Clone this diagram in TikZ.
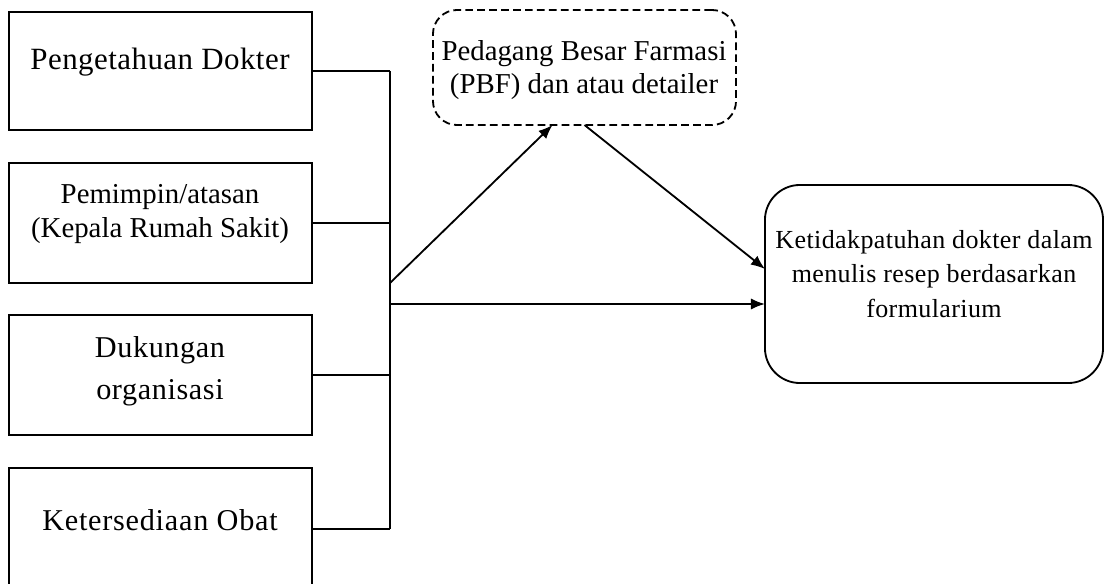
\documentclass[tikz,border=0pt]{standalone}
\usepackage{fontspec}
\setmainfont{Liberation Serif}
\usetikzlibrary{arrows.meta}

\begin{document}
\begin{tikzpicture}[x=0.025cm, y=-0.025cm]
\tikzset{kotak/.style={draw, line width=1.3pt, inner sep=0pt, outer sep=0pt, minimum width=7.575cm},
  teks/.style={align=center, inner sep=0pt, font=\fontsize{20.5}{24.8}\selectfont},
  garis/.style={line width=1.3pt},
  panah/.style={line width=1.3pt, -{Latex[length=10pt, width=8pt]}}}
\useasboundingbox (0,0) rectangle (1104,584);
\node[kotak, minimum height=2.95cm] (dokter) at (160.5,71) {};
\node[kotak, minimum height=3cm] (pimpinan) at (160.5,223) {};
\node[kotak, minimum height=3cm] (dukungan) at (160.5,375) {};
\node[kotak, minimum height=3.05cm] (obat) at (160.5,529) {};
\node[kotak, dash pattern=on 5.5pt off 3pt, rounded corners=0.6cm, minimum height=2.875cm] (pbf) at (584.5,67.5) {};
\node[kotak, rounded corners=0.875cm, minimum width=8.45cm, minimum height=4.95cm] (hasil) at (934,284) {};
\node[teks, font=\fontsize{22}{26}\selectfont\addfontfeature{LetterSpace=1.5}] (tDokter) at (160,62) {Pengetahuan Dokter};
\node[teks] (tPimpinan) at (160,214) {Pemimpin/atasan\\(Kepala Rumah Sakit)};
\node[teks, font=\fontsize{21.5}{29.8}\selectfont\addfontfeature{LetterSpace=2}] (tDukungan) at (160,371) {Dukungan\\organisasi};
\node[teks, font=\fontsize{21.5}{26}\selectfont\addfontfeature{LetterSpace=2.5}] (tObat) at (160,520) {Ketersediaan Obat};
\node[teks, font=\fontsize{20.5}{23.4}\selectfont] (tPbf) at (584,70) {Pedagang Besar Farmasi\\(PBF) dan atau detailer};
\node[teks, font=\fontsize{18.5}{24.8}\selectfont\addfontfeature{LetterSpace=1.5}] (tHasil) at (934,274) {Ketidakpatuhan dokter dalam\\menulis resep berdasarkan\\formularium};
\coordinate (bus) at (390,0);
\coordinate (cabang1) at (390,283);
\coordinate (cabang2) at (390,304);
\draw[garis] (dokter.east) -- (dokter.east -| bus);
\draw[garis] (pimpinan.east) -- (pimpinan.east -| bus);
\draw[garis] (dukungan.east) -- (dukungan.east -| bus);
\draw[garis] (obat.east) -- (obat.east -| bus);
\draw[garis] (dokter.east -| bus) -- (obat.east -| bus);
\draw[panah] (cabang1) -- ([xshift=-0.8cm]pbf.south);
\draw[panah] (pbf.south) -- ([yshift=0.375cm]hasil.west);
\draw[panah] (cabang2) -- (cabang2 -| hasil.west);
\end{tikzpicture}
\end{document}
